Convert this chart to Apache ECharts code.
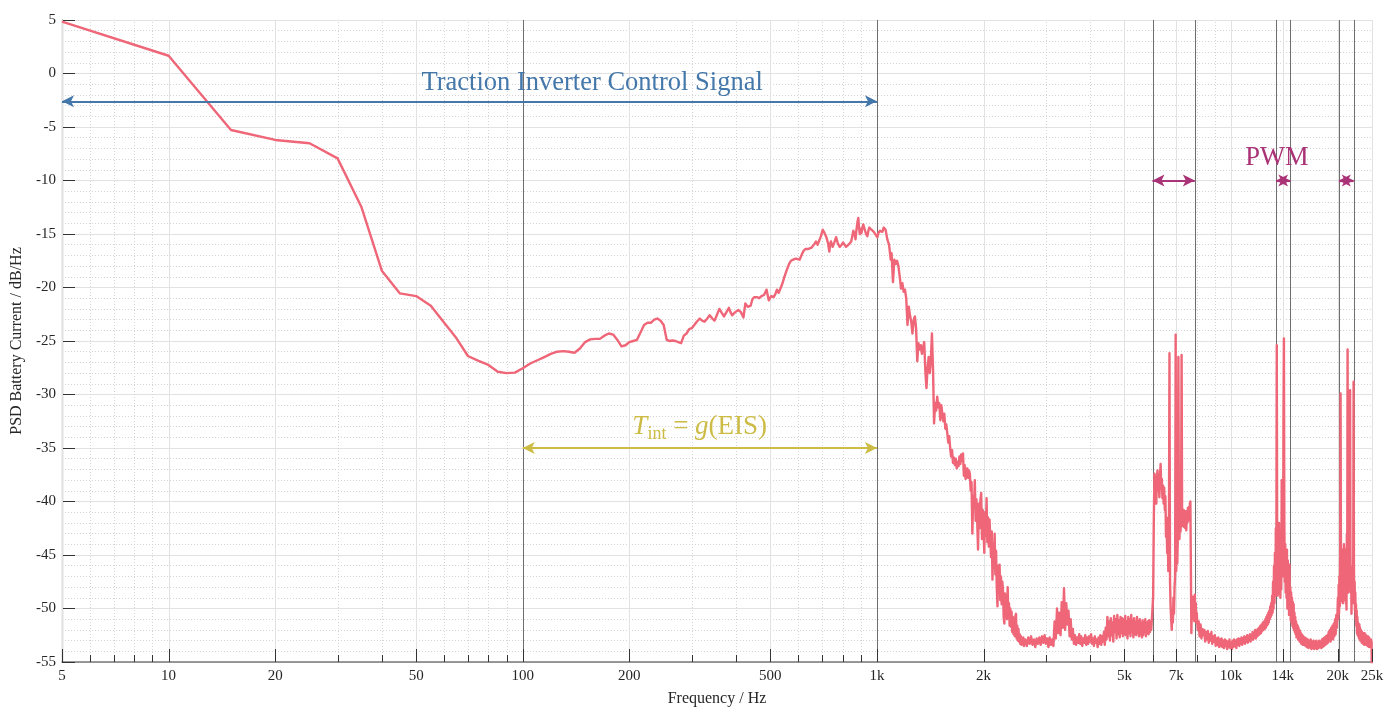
<!DOCTYPE html>
<html><head><meta charset="utf-8">
<script src="https://cdn.jsdelivr.net/npm/echarts@6/dist/echarts.min.js"></script>
<style>html,body{margin:0;padding:0;background:#fff}#c{width:1386px;height:707px}</style>
</head><body><div id="c"></div>
<script>
// ---------------- data (frequency in Hz, PSD in dB/Hz) ----------------
// low-frequency part, explicit frequency / value pairs
const freqLow = [5,10,15,20,25,30,35,40,45,50,55,60,65,70,75,80,85,90,95,100,
105,110,115,120,125,130,135,140,145,150,155,160,165,170,175,180,185,190,195,200,205,210,215,220,225,230,235,240,245,250,255,260,265,270,275,280,285,290,295,300,
305,310,316,321,326,332,337,343,348,354,359,365,370,376,382,386,390,398,406,413,420,425,432,440,445,450,458,465,472,480,488,495,503,511,517,522,528,533,540,548,556,565,572,580,590,605,612,620,628,640,652,660,667,673,680,688,695,703,711,719,727,734,738,742,750,758,767,776,785,795,803,810,818,828,837,846,852,858,861,866,870,874,878,882,886,890,895,900,905,910,915,921,926,932,940,946,952,958,965,970,980,992,1003,1010,1020,1025,1036,1045,1058,1070,1082,1094];
const psdLow = [4.84,1.66,-5.28,-6.21,-6.52,-7.93,-12.45,-18.43,-20.55,-20.8,-21.7,-23.3,-24.75,-26.4,-26.85,-27.24,-27.87,-28.0,-27.96,-27.55,
-27.1,-26.8,-26.5,-26.2,-26.0,-25.95,-26.0,-26.1,-25.7,-25.1,-24.85,-24.8,-24.8,-24.5,-24.3,-24.4,-24.9,-25.5,-25.4,-25.1,-25.0,-24.9,-24.2,-23.5,-23.3,-23.3,-23.0,-22.9,-23.1,-23.5,-24.9,-25.0,-24.95,-25.0,-25.1,-25.2,-24.5,-24.3,-23.9,-23.8,
-23.5,-23.2,-22.9,-23.1,-23.2,-22.9,-22.6,-22.9,-23.1,-22.5,-22.0,-22.4,-22.7,-22.3,-21.9,-22.3,-22.6,-22.3,-22.1,-22.3,-22.8,-21.5,-21.8,-21.7,-21.1,-20.9,-20.9,-21.0,-20.8,-20.7,-20.2,-21.2,-20.8,-20.9,-20.6,-20.2,-20.5,-20.4,-19.7,-19.0,-18.4,-17.8,-17.5,-17.4,-17.3,-17.4,-17.0,-16.6,-16.4,-16.4,-16.3,-16.1,-15.9,-15.7,-16.0,-15.9,-15.2,-14.6,-14.9,-15.25,-15.8,-16.65,-15.9,-15.7,-16.2,-15.8,-15.3,-15.9,-16.2,-16.0,-15.8,-15.9,-16.2,-16.3,-15.9,-15.7,-15.2,-14.7,-14.6,-15.1,-15.5,-14.8,-14.3,-13.8,-13.5,-14.4,-15.0,-14.5,-14.9,-14.4,-14.1,-14.2,-14.7,-15.0,-15.2,-14.7,-14.4,-14.3,-14.6,-14.5,-14.8,-14.9,-15.3,-14.9,-14.7,-14.6,-14.8,-14.4,-14.6,-15.5,-16.0,-17.4];

// higher-frequency parts: evenly spaced PSD bins between a first and last frequency
const binsB = [1100, 2600];
const psdB = [-16.8,-19.5,-17.4,-17.8,-17.5,-18.0,-19.0,-20.1,-19.6,-20.4,-20.2,-21.0,-23.5,-21.8,-22.6,-23.2,-24.3,-23.0,-22.7,-23.8,
-26.9,-25.2,-25.8,-25.4,-26.2,-25.6,-25.1,-27.8,-29.4,-27.5,-26.5,-28.0,-26.8,-24.3,-27.5,-32.7,-30.8,-31.5,-30.2,-31.2,
-30.8,-32.4,-31.0,-31.8,-32.5,-31.8,-33.2,-32.8,-33.6,-34.5,-33.9,-35.0,-35.8,-35.2,-36.4,-35.9,-36.6,-36.0,-36.9,-36.3,
-36.7,-35.8,-36.5,-35.6,-36.2,-35.5,-37.6,-36.6,-37.9,-38.0,-36.9,-37.8,-37.1,-37.4,-39.0,-38.2,-43.0,-39.5,-40.5,-38.0,
-41.8,-39.8,-42.0,-44.5,-40.2,-42.5,-39.8,-39.2,-43.5,-40.8,-42.6,-44.8,-41.0,-43.2,-39.7,-43.8,-41.5,-44.2,-41.7,-43.5,
-45.2,-42.8,-47.3,-44.0,-46.2,-43.0,-46.8,-44.6,-48.0,-49.8,-46.0,-48.5,-45.9,-49.2,-47.0,-49.6,-47.5,-48.3,-50.8,-51.4,
-48.6,-50.6,-49.2,-51.0,-48.0,-50.9,-49.5,-51.6,-50.0,-51.7,-50.3,-52.2,-50.8,-52.4,-51.2,-52.6,-50.7,-50.5,-52.8,-51.6,
-53.0,-51.9,-53.1,-52.4,-53.3,-52.6,-53.4,-52.8,-53.2,-52.7,-53.5];
const binsC = [2625, 6000];
const psdC = [-52.9,-53.5,-52.7,-53.3,-52.6,-53.4,-52.9,-53.6,-52.8,-53.3,-52.7,-53.4,-52.6,-53.2,-52.5,-53.3,-52.8,-53.6,-52.7,-53.4,
-52.9,-53.5,-51.2,-52.8,-50.0,-52.3,-50.4,-52.5,-49.4,-51.8,-48.1,-52.0,-49.5,-51.5,-50.2,-52.6,-51.0,-52.9,-51.9,-53.3,
-52.5,-53.4,-52.7,-53.2,-52.4,-53.3,-52.6,-53.5,-52.8,-53.2,-52.5,-53.4,-52.7,-53.3,-52.6,-53.1,-52.4,-53.3,-52.8,-53.5,
-52.6,-53.2,-52.9,-53.6,-52.7,-53.3,-52.5,-53.4,-52.6,-53.1,-52.2,-53.4,-51.8,-52.9,-50.8,-52.6,-51.2,-53.0,-50.9,-52.5,
-51.3,-53.1,-50.7,-52.2,-51.0,-52.8,-50.6,-52.4,-51.1,-52.7,-50.8,-52.3,-50.9,-52.6,-51.0,-52.4,-50.7,-52.5,-51.2,-52.8,
-50.8,-52.3,-51.0,-52.6,-50.6,-52.2,-51.1,-52.7,-50.9,-52.4,-51.3,-52.5,-50.8,-52.3,-51.2,-52.6,-51.0,-52.4,-51.4,-52.7,
-51.1,-52.5,-51.3,-52.2,-51.0,-52.6,-51.4,-52.3,-51.2,-52.4,-51.1,-52.2,-51.5,-52.0,-51.0,-50.0];
const binsD = [6025, 8000];
const psdD = [-48.9,-42.0,-37.4,-39.8,-38.2,-40.2,-37.6,-37.1,-39.0,-38.4,-39.6,-37.6,-36.5,-38.8,-37.9,-39.7,-38.5,-40.2,-38.7,-40.8,
-39.5,-43.3,-41.5,-44.8,-43.2,-46.5,-44.0,-26.15,-47.5,-49.8,-51.0,-52.0,-50.2,-51.3,-49.0,-50.5,-48.0,-47.0,-24.4,-46.5,
-44.8,-45.8,-43.0,-26.5,-41.7,-43.5,-41.2,-42.8,-40.6,-26.3,-42.3,-40.9,-42.0,-40.8,-42.4,-41.3,-42.5,-40.9,-42.7,-41.2,
-42.0,-40.6,-41.8,-40.5,-41.6,-40.2,-40.0,-46.0,-52.3,-49.8,-51.0,-48.9,-50.6,-49.3,-51.2,-48.7,-50.9,-49.5,-51.3,-50.4];
const binsE = [8050, 12500];
const psdE = [-52.0,-51.2,-52.6,-51.5,-52.8,-51.9,-52.5,-52.0,-53.1,-52.2,-52.9,-52.1,-53.2,-52.4,-53.0,-52.2,-53.3,-52.6,-53.1,-52.5,
-53.5,-52.8,-53.4,-52.7,-53.6,-52.9,-53.5,-52.8,-53.6,-53.0,-53.7,-52.9,-53.5,-53.0,-53.8,-53.1,-53.6,-52.9,-53.7,-53.2,
-53.8,-53.0,-53.6,-52.9,-53.5,-53.0,-53.7,-52.9,-53.4,-52.8,-53.5,-52.9,-53.3,-52.7,-53.4,-52.8,-53.2,-52.6,-53.3,-52.7,
-53.1,-52.5,-53.2,-52.6,-53.0,-52.4,-53.1,-52.5,-52.9,-52.2,-52.9,-52.3,-52.7,-52.0,-52.8,-52.1,-52.6,-51.9,-52.5,-51.8,
-52.4,-51.6,-52.3,-51.5,-52.1,-51.3,-52.0,-51.2,-51.9,-51.0];
const binsF = [12540, 15980];
const psdF = [-51.8,-50.8,-51.6,-50.6,-51.5,-50.4,-51.3,-50.2,-51.0,-49.8,-50.8,-49.5,-50.6,-48.8,-50.4,-47.5,-50.0,-46.0,-49.5,-44.8,
-48.8,-42.5,-47.0,-25.4,-46.0,-48.8,-43.0,-47.5,-42.0,-48.6,-44.0,-49.0,-43.0,-48.2,-38.0,-46.0,-41.5,-47.0,-32.0,-24.75,
-42.0,-47.5,-44.0,-48.5,-45.0,-49.0,-44.5,-50.0,-45.5,-49.5,-46.5,-50.6,-45.9,-50.2,-48.0,-51.1,-48.5,-51.3,-49.0,-51.6,
-49.4,-51.8,-49.6,-52.0,-50.4,-52.2,-50.8,-52.4,-51.2,-52.7,-51.5,-52.6,-51.6,-52.9,-51.8,-52.8,-52.0,-53.1,-52.1,-53.0,
-52.3,-53.3,-52.4,-53.2,-52.5,-53.4,-52.6];
const binsG = [16060, 19980];
const psdG = [-53.4,-52.7,-53.5,-52.8,-53.6,-52.9,-53.7,-53.0,-53.6,-52.9,-53.8,-53.1,-53.7,-53.0,-53.8,-53.1,-53.7,-53.0,-53.8,-53.2,
-53.7,-53.0,-53.6,-53.1,-53.7,-52.9,-53.6,-52.8,-53.5,-52.7,-53.4,-52.6,-53.3,-52.5,-53.2,-52.2,-53.0,-52.0,-53.1,-51.8,
-52.8,-51.6,-52.9,-51.4,-52.6,-51.0,-52.4,-50.6,-51.8,-50.2];
const binsH = [20030, 24980];
const psdH = [-49.0,-51.0,-47.8,-50.5,-47.0,-49.8,-44.0,-29.9,-45.0,-49.3,-45.5,-48.8,-44.5,-49.5,-45.0,-48.5,-44.0,-49.2,-45.5,-48.0,
-44.5,-49.5,-45.5,-50.1,-43.0,-47.5,-25.8,-44.0,-48.5,-44.5,-47.8,-43.5,-46.5,-29.6,-45.0,-48.5,-46.5,-50.5,-46.8,-49.0,
-46.1,-49.5,-45.0,-28.8,-46.0,-49.5,-47.5,-50.2,-48.5,-51.0,-49.6,-51.6,-50.2,-52.3,-50.8,-52.5,-51.3,-52.6,-51.6,-52.8,
-51.5,-52.6,-51.8,-53.0,-52.0,-52.8,-52.1,-53.2,-52.2,-53.0,-52.4,-53.3,-52.3,-53.1,-52.5,-53.4,-52.3,-53.2,-52.4,-53.3,
-52.5,-53.4,-52.6,-53.2,-52.7,-53.5,-52.6,-53.3,-52.8,-53.6,-52.7,-53.4,-52.9,-53.6,-53.0,-53.5,-52.9,-53.4,-53.1,-57.0];

// axis ticks
const xMajorTicks = [5,10,20,50,100,200,500,1000,2000,5000,7000,10000,14000,20000,25000];
const xTickLabels = ['5','10','20','50','100','200','500','1k','2k','5k','7k','10k','14k','20k','25k'];
const xMinorTicks = [6,7,8,9,30,40,60,70,80,90,300,400,600,700,800,900,3000,4000,6000,8000,9000];

// annotations
const markerFreqs = [100,1000,6000,7900,13400,14700,20150,22200];
const tractionArrow = [5,1000,-2.6];
const tractionLabel = ['Traction Inverter Control Signal',157,-0.9];
const tintArrow = [100,1000,-35];
const tintLabel = [316,-33.05];
const pwmArrows = [[6000,7900],[13400,14700],[20150,22200]];
const pwmY = -10;
const pwmLabel = ['PWM',13470,-7.9];

const Y_MIN=-55, Y_MAX=5;
const FONT='"Liberation Serif", "DejaVu Serif", serif';
const TXT='#262626';
const BLUE='#4477AA', GOLD='#CCBB44', PURPLE='#AA3377', RED='#EE6677';

function bins(range, vals){
  const n = vals.length;
  return vals.map((v,i)=>[range[0]+(range[1]-range[0])*i/(n-1), v]);
}
const psdData = freqLow.map((f,i)=>[f,psdLow[i]])
  .concat(bins(binsB,psdB),bins(binsC,psdC),bins(binsD,psdD),bins(binsE,psdE),
          bins(binsF,psdF),bins(binsG,psdG),bins(binsH,psdH));

function vline(stroke, dash, len){
  return function(params, api){
    const f = api.value(0);
    const p0 = api.coord([f, Y_MIN]);
    const p1 = api.coord([f, Y_MAX]);
    const x = Math.round(p0[0])+0.5;
    const y1 = len===undefined ? p1[1] : p0[1]-len;
    return {type:'line', silent:true,
      shape:{x1:x,y1:p0[1],x2:x,y2:y1},
      style:{stroke:stroke,lineWidth:1,lineDash:dash||null}};
  };
}

const measureCtx = document.createElement('canvas').getContext('2d');
function textWidth(font, t){ measureCtx.font = font; return measureCtx.measureText(t).width; }

const chart = echarts.init(document.getElementById('c'), null, {renderer:'canvas'});
const option = {
  animation:false,
  backgroundColor:'#fff',
  grid:{left:62,right:14,top:20,bottom:45,containLabel:false,outerBoundsMode:'none'},
  xAxis:{type:'log',logBase:10,min:5,max:25000,
    name:'Frequency / Hz',nameLocation:'middle',nameGap:29,
    nameTextStyle:{fontFamily:FONT,fontSize:16,color:TXT},
    axisLine:{show:true,onZero:false,lineStyle:{color:'#7a7a7a',width:1.5}},
    axisTick:{show:false},axisLabel:{show:false},splitLine:{show:false},minorTick:{show:false},minorSplitLine:{show:false}},
  yAxis:{type:'value',min:Y_MIN,max:Y_MAX,interval:5,
    name:'PSD Battery Current / dB/Hz',nameLocation:'middle',nameGap:30,nameRotate:90,
    nameTextStyle:{fontFamily:FONT,fontSize:16,color:TXT},
    axisLine:{show:true,lineStyle:{color:'#555',width:1.2}},
    axisTick:{show:true,inside:true,length:13,lineStyle:{color:'#333',width:1}},
    axisLabel:{fontFamily:FONT,fontSize:15,color:TXT,margin:6},
    splitLine:{show:true,lineStyle:{color:'#e2e2e2',width:1}},
    minorTick:{show:false,splitNumber:5},
    minorSplitLine:{show:true,lineStyle:{color:'#d4d4d4',width:1,type:[1,2]}}},
  series:[
    {type:'custom',name:'minorGrid',z:1,silent:true,clip:false,
     data:xMinorTicks.map(f=>[f,0]),renderItem:vline('#d4d4d4',[1,2])},
    {type:'custom',name:'majorGrid',z:1,silent:true,clip:false,
     data:xMajorTicks.map(f=>[f,0]),renderItem:vline('#e2e2e2',null)},
    {type:'custom',name:'minorTicks',z:5,silent:true,clip:false,
     data:xMinorTicks.map(f=>[f,0]),renderItem:vline('#333',null,7)},
    {type:'custom',name:'majorTicks',z:5,silent:true,clip:false,
     data:xMajorTicks.map(f=>[f,0]),renderItem:vline('#333',null,13)},
    {type:'custom',name:'xLabels',z:5,silent:true,clip:false,
     data:xMajorTicks.map((f,i)=>[f,0,i]),
     renderItem:function(params,api){
       const f=api.value(0); const p=api.coord([f,Y_MIN]);
       return {type:'text',x:p[0],y:p[1]+7,style:{text:xTickLabels[api.value(2)],fill:TXT,
         font:'15px '+FONT,align:'center',verticalAlign:'top'}};
     }},
    {type:'custom',name:'markers',z:3,silent:true,clip:false,
     data:markerFreqs.map(f=>[f,0]),renderItem:vline('#6e6e6e',null)},
    {type:'line',name:'PSD',z:4,data:psdData,showSymbol:false,symbol:'none',
     clip:true,lineStyle:{color:RED,width:2.4,join:'round'},itemStyle:{color:RED}},
    {type:'line',name:'annotArrows',z:6,data:[],silent:true,
     markLine:{silent:true,symbol:['arrow','arrow'],symbolSize:[9,12],label:{show:false},
       lineStyle:{type:'solid'},
       data:[
         [{coord:[tractionArrow[0],tractionArrow[2]],lineStyle:{color:BLUE,width:2.2,type:'solid'}},{coord:[tractionArrow[1],tractionArrow[2]]}],
         [{coord:[tintArrow[0],tintArrow[2]],lineStyle:{color:GOLD,width:2.2,type:'solid'}},{coord:[tintArrow[1],tintArrow[2]]}]
       ].concat(pwmArrows.map(a=>[{coord:[a[0],pwmY],lineStyle:{color:PURPLE,width:2.2,type:'solid'}},{coord:[a[1],pwmY]}]))}},
    {type:'custom',name:'annotTexts',z:7,silent:true,clip:false,
     data:[[tractionLabel[1],tractionLabel[2],0],[pwmLabel[1],pwmLabel[2],1],[tintLabel[0],tintLabel[1],2]],
     renderItem:function(params,api){
       const k=api.value(2); const p=api.coord([api.value(0),api.value(1)]);
       if(k===0){
         return {type:'text',x:p[0],y:p[1],style:{text:tractionLabel[0],fill:BLUE,font:'26.5px '+FONT,align:'center',verticalAlign:'middle'}};
       }
       if(k===1){
         return {type:'text',x:p[0],y:p[1],style:{text:pwmLabel[0],fill:PURPLE,font:'26.5px '+FONT,align:'center',verticalAlign:'middle'}};
       }
       const parts=[
         {t:'T',font:'italic 27px '+FONT,dy:0},
         {t:'int',font:'18px '+FONT,dy:7},
         {t:' = ',font:'27px '+FONT,dy:0},
         {t:'g',font:'italic 27px '+FONT,dy:0},
         {t:'(EIS)',font:'27px '+FONT,dy:0}];
       let total=0; parts.forEach(q=>{q.w=textWidth(q.font,q.t); total+=q.w;});
       let x=p[0]-total/2;
       const children=parts.map(q=>{const el={type:'text',x:x,y:p[1]+q.dy,
         style:{text:q.t,fill:GOLD,font:q.font,align:'left',verticalAlign:'middle'}}; x+=q.w; return el;});
       return {type:'group',children:children};
     }}
  ]
};
chart.setOption(option);
</script></body></html>
